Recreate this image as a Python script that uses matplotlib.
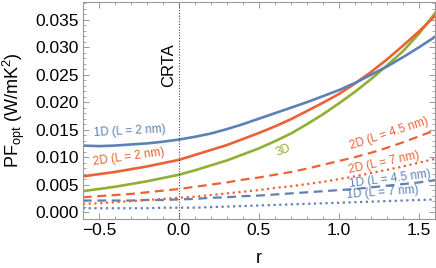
import matplotlib
matplotlib.use("Agg")
import matplotlib.pyplot as plt

plt.rcParams["font.family"] = "Liberation Sans"
plt.rcParams["mathtext.fontset"] = "custom"
plt.rcParams["mathtext.rm"] = "Liberation Sans"
plt.rcParams["mathtext.it"] = "Liberation Sans:italic"

r = [-0.6, -0.5, -0.4, -0.3, -0.2, -0.1, 0.0, 0.1, 0.2, 0.3, 0.4, 0.5,
     0.6, 0.7, 0.8, 0.9, 1.0, 1.1, 1.2, 1.3, 1.4, 1.5, 1.6]

pf_1d_2 = [0.0121, 0.0120, 0.0121, 0.0123, 0.0125, 0.0128, 0.0132, 0.0137, 0.0143, 0.0151, 0.0160, 0.0170,
           0.0180, 0.0190, 0.0200, 0.0211, 0.0222, 0.0235, 0.0250, 0.0265, 0.0282, 0.0300, 0.0319]
pf_2d_2 = [0.0065, 0.0069, 0.0073, 0.0078, 0.0083, 0.0089, 0.0095, 0.0104, 0.0113, 0.0122, 0.0133, 0.0144,
           0.0156, 0.0169, 0.0184, 0.0199, 0.0215, 0.0234, 0.0255, 0.0278, 0.0303, 0.0329, 0.0357]
pf_3d = [0.0038, 0.0042, 0.0046, 0.0051, 0.0056, 0.0062, 0.0068, 0.0076, 0.0085, 0.0094, 0.0105, 0.0116,
         0.0129, 0.0143, 0.0160, 0.0178, 0.0198, 0.0219, 0.0242, 0.0267, 0.0293, 0.0325, 0.0362]
pf_2d_45 = [0.0027, 0.0029, 0.0031, 0.0033, 0.0036, 0.0039, 0.0042, 0.0046, 0.0050, 0.0054, 0.0059, 0.0063,
            0.0068, 0.0073, 0.0079, 0.0086, 0.0093, 0.0100, 0.0108, 0.0117, 0.0127, 0.0138, 0.0149]
pf_2d_7 = [0.0015, 0.0016, 0.0018, 0.0020, 0.0022, 0.0024, 0.0026, 0.0028, 0.0031, 0.0034, 0.0037, 0.0040,
           0.0044, 0.0047, 0.0051, 0.0055, 0.0060, 0.0065, 0.0071, 0.0077, 0.0083, 0.0090, 0.0097]
pf_1d_45 = [0.0021, 0.0021, 0.0021, 0.0021, 0.0022, 0.0022, 0.0023, 0.0024, 0.0026, 0.0027, 0.0029, 0.0030,
            0.0032, 0.0034, 0.0036, 0.0038, 0.0040, 0.0042, 0.0045, 0.0048, 0.0051, 0.0054, 0.0058]
pf_1d_7 = [0.0007, 0.0007, 0.0007, 0.0007, 0.0007, 0.0008, 0.0008, 0.0008, 0.0009, 0.0010, 0.0011, 0.0012,
           0.0013, 0.0014, 0.0015, 0.0016, 0.0017, 0.0018, 0.0019, 0.0020, 0.0021, 0.0022, 0.0023]

blue = "#5E81B5"
red = "#EB6235"
green = "#8FB032"

fig = plt.figure(figsize=(4.36, 2.68), dpi=100)
ax = fig.add_axes([0.19, 0.182, 0.808, 0.812])

dot = (0, (1, 1.6))
dash = (0, (4, 2.5))
ax.plot(r, pf_1d_7, color=blue, lw=1.6, ls=dot)
ax.plot(r, pf_1d_45, color=blue, lw=1.6, ls=dash)
ax.plot(r, pf_2d_7, color=red, lw=1.6, ls=dot)
ax.plot(r, pf_2d_45, color=red, lw=1.6, ls=dash)
ax.plot(r, pf_3d, color=green, lw=1.9)
ax.plot(r, pf_2d_2, color=red, lw=1.9)
ax.plot(r, pf_1d_2, color=blue, lw=1.9)

ax.axvline(0, color="#444444", lw=0.8, ls=(0, (1, 1.5)))
ax.text(-0.02, 0.0268, "CRTA", rotation=90, ha="right", va="center", fontsize=12)

fs = 8.5
ax.text(-0.31, 0.0148, "1D (L = 2 nm)", color=blue, fontsize=fs, rotation=3, ha="center", va="center")
ax.text(-0.31, 0.0101, "2D (L = 2 nm)", color=red, fontsize=fs, rotation=8, ha="center", va="center")
ax.text(0.65, 0.0113, "3D", color=green, fontsize=fs, rotation=22, ha="center", va="center")
ax.text(1.31, 0.0143, "2D (L = 4.5 nm)", color=red, fontsize=fs, rotation=18, ha="center", va="center")
ax.text(1.28, 0.0090, "2D (L = 7 nm)", color=red, fontsize=fs, rotation=12, ha="center", va="center")
ax.text(1.32, 0.0061, "1D (L = 4.5 nm)", color=blue, fontsize=fs, rotation=7, ha="center", va="center")
ax.text(1.27, 0.0036, "1D (L = 7 nm)", color=blue, fontsize=fs, rotation=4, ha="center", va="center")

ax.set_xlim(-0.6, 1.6)
ax.set_ylim(-0.0013, 0.0383)
ax.set_xticks([-0.5, 0.0, 0.5, 1.0, 1.5])
ax.set_xticks([i / 10 for i in range(-6, 17)], minor=True)
ax.set_yticks([0.000, 0.005, 0.010, 0.015, 0.020, 0.025, 0.030, 0.035])
ax.set_yticks([i / 1000 for i in range(0, 39)], minor=True)
ax.set_yticklabels(["0.000", "0.005", "0.010", "0.015", "0.020", "0.025", "0.030", "0.035"])
ax.set_xticklabels(["\u22120.5", "0.0", "0.5", "1.0", "1.5"])
ax.tick_params(which="both", direction="in", top=True, right=True, color="#999999",
               labelsize=12.5, pad=3)
ax.tick_params(which="major", length=4, width=0.7)
ax.tick_params(which="minor", length=2, width=0.6)
for s in ax.spines.values():
    s.set_color("#999999")
    s.set_linewidth(0.8)

ax.set_xlabel("r", fontsize=13, labelpad=8)
ax.set_ylabel(r"PF$_{\rm opt}$ (W/mK$^2$)", fontsize=13, labelpad=6)

fig.savefig("out.png", dpi=100)
